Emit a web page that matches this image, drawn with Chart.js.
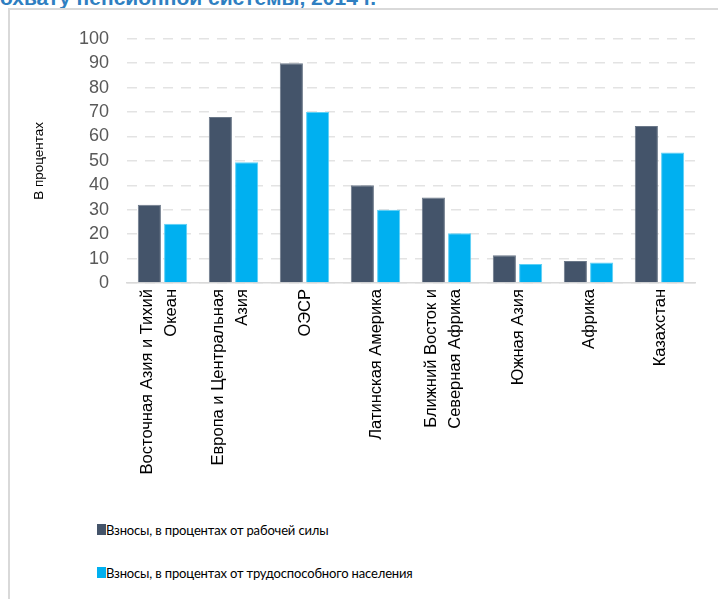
<!DOCTYPE html>
<html>
<head>
<meta charset="utf-8">
<script src="https://cdn.jsdelivr.net/npm/chart.js@4.4.0/dist/chart.umd.min.js"></script>
<style>
  body { margin: 0; width: 718px; height: 599px; overflow: hidden; background: #fff; font-family: Lato, 'Liberation Sans', Arial, sans-serif; position: relative; }
  #title { position: absolute; left: 0; top: -14px; font-family: 'Liberation Sans', Arial, sans-serif; font-size: 21px; font-weight: bold; color: #2F7FC1; white-space: nowrap; }
  #box { position: absolute; left: 8px; top: 8px; width: 760px; height: 640px; border-top: 2px solid #d9d9d9; border-left: 2px solid #d9d9d9; }
  #wrap { position: absolute; left: 10px; top: 10px; width: 708px; height: 490px; }
  #legend { position: absolute; left: 97px; top: 518px; }
  .item { display: flex; align-items: flex-end; height: 20px; margin-bottom: 23px; font-family: Lato, 'Liberation Sans', sans-serif; font-size: 13px; color: #000; letter-spacing: -0.15px; }
  .sw { width: 9px; height: 11px; margin-bottom: 3px; }
</style>
</head>
<body>
<div id="title">охвату пенсионной системы, 2014 г.</div>
<div id="box"></div>
<div id="wrap"><canvas id="chart"></canvas></div>
<div id="legend"></div>
<script>
const regions = [
  ['Восточная Азия и Тихий', 'Океан'],
  ['Европа и Центральная', 'Азия'],
  'ОЭСР',
  'Латинская Америка',
  ['Ближний Восток и', 'Северная Африка'],
  'Южная Азия',
  'Африка',
  'Казахстан'
];
const laborForce = [32, 68, 90, 40, 35, 11.4, 9, 64.3];
const workingAge = [24.3, 49.4, 70, 30, 20.4, 7.8, 8.4, 53.4];
const yTicks = [0, 10, 20, 30, 40, 50, 60, 70, 80, 90, 100];
const seriesNames = [
  'Взносы, в процентах от рабочей силы',
  'Взносы, в процентах от трудоспособного населения'
];
const colors = ['#44546A', '#00B0F0'];

// two-line labels are centred on the tick; one-line labels get a blank line first to undo the offset
const twoLine = (i) => Array.isArray(regions[i]);

const ctx = document.getElementById('chart').getContext('2d');
const chart = new Chart(ctx, {
  type: 'bar',
  data: {
    labels: regions,
    datasets: [
      { label: seriesNames[0], data: laborForce, backgroundColor: colors[0], borderColor: '#6b7889', borderWidth: 1 },
      { label: seriesNames[1], data: workingAge, backgroundColor: colors[1], borderColor: '#5cd0f5', borderWidth: 1 }
    ]
  },
  options: {
    responsive: true,
    maintainAspectRatio: false,
    animation: false,
    layout: { padding: { top: 28, right: 23, left: 0, bottom: 0 } },
    datasets: { bar: { categoryPercentage: 0.74, barPercentage: 0.88 } },
    plugins: { legend: { display: false }, tooltip: { enabled: false } },
    scales: {
      x: {
        grid: { display: false },
        border: { color: '#d9d9d9', width: 1.5 },
        ticks: {
          minRotation: 90, maxRotation: 90, autoSkip: false, padding: -2,
          labelOffset: -15,
          color: '#000',
          callback: (v, i) => twoLine(i) ? regions[i] : ['', regions[i]],
          font: (c) => ({
            family: "'Liberation Sans', Arial, sans-serif",
            size: 16.5,
            lineHeight: twoLine(c.index) ? '24px' : '16px'
          })
        },
        afterFit: (scale) => { scale.height = 217; }
      },
      y: {
        min: 0, max: 100,
        afterBuildTicks: (scale) => { scale.ticks = yTicks.map(v => ({ value: v })); },
        grid: { color: '#e3e3e3', lineWidth: 1.5, drawTicks: false },
        border: { display: false, dash: [10, 8] },
        ticks: {
          autoSkip: false, padding: 18, color: '#595959',
          font: { family: "'Liberation Sans', Arial, sans-serif", size: 18 }
        },
        title: {
          display: true, text: 'В процентах', color: '#000',
          padding: { top: 21, bottom: 0 },
          font: { family: "'Liberation Sans', Arial, sans-serif", size: 13.5 }
        },
        afterFit: (scale) => { scale.width = 117; }
      }
    }
  }
});

const legend = document.getElementById('legend');
chart.data.datasets.forEach(ds => {
  const item = document.createElement('div');
  item.className = 'item';
  const sw = document.createElement('span');
  sw.className = 'sw';
  sw.style.background = ds.backgroundColor;
  const txt = document.createElement('span');
  txt.textContent = ds.label;
  item.appendChild(sw);
  item.appendChild(txt);
  legend.appendChild(item);
});
</script>
</body>
</html>
